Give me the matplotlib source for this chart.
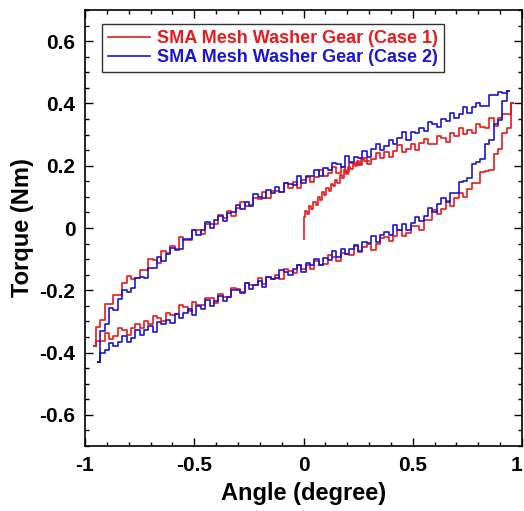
import numpy as np
import matplotlib
matplotlib.use("Agg")
import matplotlib.pyplot as plt
from matplotlib.ticker import MultipleLocator, FuncFormatter

plt.rcParams['font.family'] = ['Liberation Sans', 'DejaVu Sans']
plt.rcParams['font.weight'] = 'bold'
plt.rcParams['axes.unicode_minus'] = False

# ---- Case 1 (red) ----
angle1 = [-0.96, -0.94, -0.92, -0.90, -0.88, -0.86, -0.84, -0.82, -0.80, -0.78,
          -0.76, -0.74, -0.72, -0.70, -0.68, -0.66, -0.64, -0.62, -0.60, -0.58,
          -0.56, -0.54, -0.52, -0.50, -0.48, -0.46, -0.44, -0.42, -0.40, -0.38,
          -0.36, -0.34, -0.32, -0.30, -0.28, -0.26, -0.24, -0.22, -0.20, -0.18,
          -0.16, -0.14, -0.12, -0.10, -0.08, -0.06, -0.04, -0.02, 0.00, 0.02,
          0.04, 0.06, 0.08, 0.10, 0.12, 0.14, 0.16, 0.18, 0.20, 0.22,
          0.24, 0.26, 0.28, 0.30, 0.32, 0.34, 0.36, 0.38, 0.40, 0.42,
          0.44, 0.46, 0.48, 0.50, 0.52, 0.54, 0.56, 0.58, 0.60, 0.62,
          0.64, 0.66, 0.68, 0.70, 0.72, 0.74, 0.76, 0.78, 0.80, 0.82,
          0.84, 0.86, 0.88, 0.90, 0.92, 0.94, 0.96]
# torque while angle increases (upper branch)
up1 = [-0.380, -0.318, -0.296, -0.245, -0.245, -0.214, -0.216, -0.177, -0.154, -0.163,
       -0.162, -0.134, -0.135, -0.101, -0.103, -0.111, -0.075, -0.080, -0.058, -0.066,
       -0.029, -0.038, -0.037, -0.008, -0.007, -0.019, 0.013, 0.012, 0.013, 0.041,
       0.032, 0.055, 0.039, 0.063, 0.085, 0.070, 0.073, 0.097, 0.092, 0.115,
       0.095, 0.119, 0.120, 0.117, 0.144, 0.128, 0.148, 0.130, 0.154, 0.163,
       0.147, 0.165, 0.185, 0.168, 0.176, 0.195, 0.178, 0.196, 0.179, 0.210,
       0.210, 0.203, 0.224, 0.205, 0.221, 0.242, 0.226, 0.244, 0.228, 0.247,
       0.266, 0.244, 0.254, 0.270, 0.251, 0.274, 0.286, 0.271, 0.271, 0.295,
       0.290, 0.277, 0.305, 0.297, 0.320, 0.301, 0.316, 0.305, 0.333, 0.325,
       0.322, 0.352, 0.328, 0.352, 0.367, 0.366, 0.400]
# torque while angle decreases (lower branch), listed from 0.96 down to -0.96
down1 = [0.400, 0.321, 0.304, 0.255, 0.238, 0.187, 0.183, 0.181, 0.143, 0.146,
         0.124, 0.099, 0.112, 0.095, 0.071, 0.087, 0.060, 0.044, 0.057, 0.027,
         0.025, -0.007, 0.007, 0.007, -0.017, -0.027, -0.007, -0.026, -0.042, -0.029,
         -0.031, -0.051, -0.070, -0.052, -0.060, -0.077, -0.059, -0.086, -0.083, -0.079,
         -0.106, -0.093, -0.086, -0.116, -0.118, -0.106, -0.133, -0.119, -0.131, -0.119,
         -0.146, -0.139, -0.133, -0.164, -0.150, -0.164, -0.158, -0.181, -0.159, -0.184,
         -0.182, -0.177, -0.206, -0.196, -0.192, -0.221, -0.220, -0.211, -0.240, -0.224,
         -0.225, -0.248, -0.246, -0.237, -0.265, -0.253, -0.246, -0.277, -0.279, -0.272,
         -0.300, -0.290, -0.281, -0.307, -0.300, -0.322, -0.307, -0.321, -0.344, -0.326,
         -0.322, -0.347, -0.355, -0.338, -0.362, -0.363, -0.380]
# first loading from rest
virgin_angle = [0.0, 0.0, 0.01, 0.02, 0.03, 0.04, 0.05, 0.06, 0.07, 0.08, 0.09, 0.10,
                0.11, 0.12, 0.13, 0.14, 0.15, 0.16, 0.17, 0.18, 0.19, 0.20, 0.21,
                0.22, 0.23, 0.24, 0.25, 0.26, 0.27, 0.28, 0.30]
virgin_torque = [-0.035, 0.035, 0.055, 0.045, 0.07, 0.06, 0.085, 0.075, 0.10, 0.09,
                 0.115, 0.105, 0.13, 0.12, 0.14, 0.135, 0.155, 0.145, 0.17, 0.16,
                 0.185, 0.175, 0.195, 0.19, 0.205, 0.20, 0.215, 0.205, 0.22, 0.215, 0.215]

# ---- Case 2 (blue) ----
angle2 = [-0.94, -0.92, -0.90, -0.88, -0.86, -0.84, -0.82, -0.80, -0.78, -0.76,
          -0.74, -0.72, -0.70, -0.68, -0.66, -0.64, -0.62, -0.60, -0.58, -0.56,
          -0.54, -0.52, -0.50, -0.48, -0.46, -0.44, -0.42, -0.40, -0.38, -0.36,
          -0.34, -0.32, -0.30, -0.28, -0.26, -0.24, -0.22, -0.20, -0.18, -0.16,
          -0.14, -0.12, -0.10, -0.08, -0.06, -0.04, -0.02, 0.00, 0.02, 0.04,
          0.06, 0.08, 0.10, 0.12, 0.14, 0.16, 0.18, 0.20, 0.22, 0.24,
          0.26, 0.28, 0.30, 0.32, 0.34, 0.36, 0.38, 0.40, 0.42, 0.44,
          0.46, 0.48, 0.50, 0.52, 0.54, 0.56, 0.58, 0.60, 0.62, 0.64,
          0.66, 0.68, 0.70, 0.72, 0.74, 0.76, 0.78, 0.80, 0.82, 0.84,
          0.86, 0.88, 0.90, 0.92, 0.94]
up2 = [-0.430, -0.330, -0.307, -0.257, -0.262, -0.227, -0.199, -0.204, -0.194, -0.161,
       -0.158, -0.161, -0.127, -0.127, -0.092, -0.106, -0.082, -0.063, -0.070, -0.068,
       -0.036, -0.035, -0.008, -0.023, -0.008, 0.018, 0.001, 0.026, 0.038, 0.021,
       0.048, 0.050, 0.073, 0.061, 0.084, 0.072, 0.108, 0.101, 0.097, 0.123,
       0.114, 0.131, 0.116, 0.146, 0.141, 0.137, 0.167, 0.145, 0.166, 0.166,
       0.187, 0.166, 0.194, 0.186, 0.208, 0.205, 0.197, 0.230, 0.212, 0.229,
       0.225, 0.247, 0.229, 0.254, 0.271, 0.252, 0.264, 0.282, 0.269, 0.290,
       0.307, 0.282, 0.307, 0.304, 0.322, 0.310, 0.340, 0.333, 0.324, 0.351,
       0.344, 0.368, 0.353, 0.367, 0.389, 0.368, 0.390, 0.401, 0.393, 0.393,
       0.426, 0.426, 0.438, 0.434, 0.440]
down2 = [0.440, 0.408, 0.348, 0.334, 0.282, 0.270, 0.220, 0.213, 0.207, 0.161,
         0.150, 0.148, 0.113, 0.114, 0.083, 0.095, 0.076, 0.050, 0.065, 0.037,
         0.023, 0.036, 0.016, -0.005, 0.012, -0.008, 0.010, -0.021, -0.013, -0.024,
         -0.045, -0.025, -0.049, -0.044, -0.073, -0.053, -0.069, -0.084, -0.068, -0.092,
         -0.074, -0.103, -0.097, -0.119, -0.101, -0.119, -0.113, -0.140, -0.119, -0.131,
         -0.152, -0.142, -0.135, -0.162, -0.165, -0.156, -0.188, -0.171, -0.183, -0.196,
         -0.177, -0.210, -0.200, -0.198, -0.221, -0.235, -0.219, -0.233, -0.250, -0.230,
         -0.259, -0.252, -0.278, -0.260, -0.274, -0.290, -0.275, -0.305, -0.295, -0.309,
         -0.301, -0.334, -0.316, -0.327, -0.345, -0.327, -0.354, -0.366, -0.348, -0.367,
         -0.379, -0.370, -0.393, -0.400, -0.430]

x_ticks = [-1, -0.5, 0, 0.5, 1]
x_labels = ['-1', '-0.5', '0', '0.5', '1']

red = '#e8191c'
blue = '#1a14d6'

fig = plt.figure(figsize=(5.24, 5.11), dpi=100)
ax = fig.add_axes([0.1622, 0.1272, 0.8340, 0.8532])

ax.plot(angle1 + angle1[::-1], up1 + down1, color=red, lw=1.2,
        drawstyle='steps-mid', label='SMA Mesh Washer Gear (Case 1)')
ax.plot(virgin_angle, virgin_torque, color=red, lw=1.2, drawstyle='steps-mid')
ax.plot(angle2 + angle2[::-1], up2 + down2, color=blue, lw=1.2,
        drawstyle='steps-mid', label='SMA Mesh Washer Gear (Case 2)')

ax.set_xlim(-1, 1)
ax.set_ylim(-0.7, 0.7)
ax.set_xticks(x_ticks, x_labels)
ax.xaxis.set_minor_locator(MultipleLocator(0.1))
ax.yaxis.set_major_locator(MultipleLocator(0.2))
ax.yaxis.set_minor_locator(MultipleLocator(0.05))
ax.yaxis.set_major_formatter(FuncFormatter(lambda v, p: '%g' % round(v, 3)))
ax.tick_params(which='both', direction='in', top=True, right=True, labelsize=15, width=1)
ax.tick_params(which='major', length=6, pad=7)
ax.tick_params(which='minor', length=3)
# last label sits on the figure edge; keep it inside
ax.get_xticklabels()[-1].set_horizontalalignment('right')
for s in ax.spines.values():
    s.set_linewidth(1.2)

ax.set_xlabel('Angle (degree)', fontsize=17, fontweight='bold', labelpad=5)
ax.set_ylabel('Torque (Nm)', fontsize=17, fontweight='bold', labelpad=4)

leg = ax.legend(loc='upper left', bbox_to_anchor=(0.039, 0.968), fontsize=13,
                frameon=True, fancybox=False, edgecolor='black', handlelength=2.3,
                labelcolor='linecolor', borderpad=0.35, labelspacing=0.1,
                handletextpad=0.4, borderaxespad=0)
leg.get_frame().set_linewidth(1.0)

fig.savefig('out.png', dpi=100)
